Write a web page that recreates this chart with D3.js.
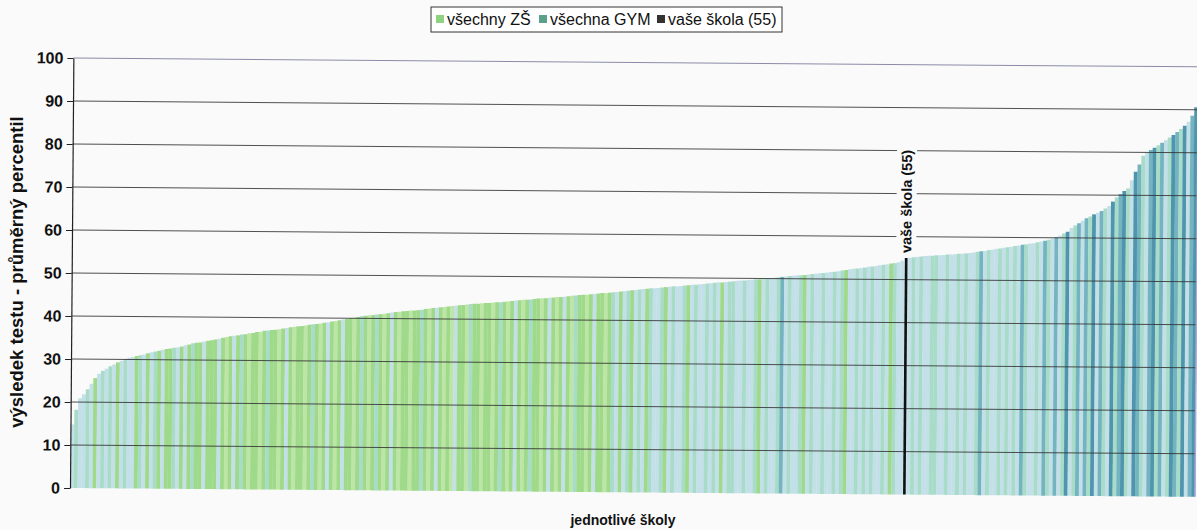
<!DOCTYPE html>
<html><head><meta charset="utf-8">
<script src="https://cdn.jsdelivr.net/npm/d3@7"></script>
<style>html,body{margin:0;padding:0;background:#fafafa;} svg{display:block;font-family:"Liberation Sans",Arial,sans-serif;}</style>
</head><body><svg id="c" width="1197" height="530"></svg>
<script>
// sorted average percentile of each school
const values = [
14.8,18.2,20.9,21.8,23.0,24.3,25.6,26.6,27.3,27.8,
28.4,28.8,29.3,29.7,30.1,30.4,30.6,30.8,31.0,31.2,
31.5,31.7,31.9,32.1,32.3,32.5,32.6,32.8,32.9,33.1,
33.4,33.6,33.9,34.0,34.1,34.3,34.5,34.6,34.8,35.0,
35.2,35.4,35.6,35.7,35.8,36.0,36.1,36.3,36.4,36.6,
36.7,36.9,37.0,37.1,37.2,37.3,37.5,37.6,37.8,37.9,
38.0,38.1,38.2,38.4,38.5,38.6,38.7,38.9,39.0,39.2,
39.3,39.5,39.7,39.8,40.0,40.1,40.3,40.5,40.6,40.7,
40.8,40.9,41.0,41.1,41.2,41.4,41.5,41.6,41.7,41.8,
41.9,41.9,42.0,42.1,42.3,42.4,42.5,42.6,42.7,42.8,
42.9,43.0,43.1,43.2,43.3,43.4,43.5,43.6,43.6,43.7,
43.8,43.8,43.9,44.0,44.0,44.1,44.2,44.3,44.4,44.5,
44.6,44.6,44.7,44.8,44.9,45.0,45.0,45.1,45.2,45.3,
45.3,45.4,45.5,45.6,45.7,45.8,45.9,45.9,46.0,46.1,
46.2,46.3,46.3,46.4,46.5,46.6,46.7,46.8,46.9,47.0,
47.1,47.2,47.3,47.4,47.5,47.5,47.6,47.7,47.8,47.9,
48.0,48.0,48.1,48.2,48.3,48.4,48.4,48.5,48.6,48.7,
48.8,48.9,49.0,49.0,49.1,49.2,49.3,49.4,49.5,49.5,
49.6,49.7,49.8,49.8,49.9,50.0,50.1,50.2,50.3,50.4,
50.5,50.6,50.7,50.8,50.8,50.9,51.0,51.1,51.2,51.3,
51.4,51.5,51.6,51.7,51.8,52.0,52.1,52.3,52.4,52.5,
52.6,52.7,52.9,53.0,53.1,53.3,53.4,53.5,53.7,53.8,
54.0,54.4,55.0,55.1,55.2,55.3,55.4,55.5,55.6,55.6,
55.7,55.7,55.8,55.9,55.9,56.0,56.1,56.1,56.2,56.3,
56.4,56.6,56.7,56.8,57.0,57.1,57.3,57.4,57.6,57.7,
57.8,58.0,58.1,58.3,58.4,58.6,58.7,58.9,59.1,59.3,
59.5,59.8,60.1,60.5,61.0,61.4,62.3,62.9,63.4,64.0,
64.6,65.0,65.5,65.9,66.3,66.9,67.5,68.5,69.5,70.3,
71.0,71.6,73.5,75.5,77.2,79.2,80.0,80.6,81.1,81.7,
82.3,82.9,83.5,84.1,84.8,85.5,86.3,87.2,88.6,90.6
];
// school type of each bar: g/h = ZŠ greens, b/m = pale shades, t/d = GYM teals, k = own school
const typeRows = [
"bmbbmbgbmb","mbgbmbbgmb","gbmgbggmbg","bgmggbgggb","ghgbgmghgg",
"hgmgghgbgh","gghgmghgbg","hgbgghgmgh","gmghgbghgg","hggmghgbgh",
"ghbgghmggh","gghgmghgbg","hgmgghgbgh","gbghmgghgb","gghgmbgbmg",
"bmbgmbbmgb","mbbmgbmbbm","bmbgbmmbbm","bbmgbmbbmt","bmbbmgbmbb",
"mbbmbmgbbm","bmbmbbmbgm","bbkbmbmbbm","mbbmbbmbmb","bmtbmbbmbm",
"bmbtmbbmbt","mbtbmdbmtb","tmdbtmbdmt","dmbdtmbtdm","tbmdtmdbtd"
];
const types = typeRows.join("").split("");
const yTicks = [0,10,20,30,40,50,60,70,80,90,100];
const legendLabels = ["všechny ZŠ","všechna GYM","vaše škola (55)"];
const legendColors = ["#8fd27f","#5aa08a","#333333"];
const ownLabel = "vaše škola (55)";
const ownValue = 55;
const yTitle = "výsledek testu - průměrný percentil";
const xTitle = "jednotlivé školy";
const colors = {g:"#9fd98a",h:"#bde5a6",b:"#c3e0e8",m:"#a8dcc8",t:"#74b3c0",d:"#4f95ad",k:"#c3e0e8"};

const svg = d3.select("#c");
svg.append("rect").attr("width",1197).attr("height",530).attr("fill","#fafafa");
const L=70,R=1195,T=58,B=488;
const x = d3.scaleBand().domain(d3.range(values.length)).range([L,R]).padding(0);
const y = d3.scaleLinear().domain([0,100]).range([B,T]);
const plot = svg.append("g").attr("transform","rotate(0.45,70,488)");

plot.selectAll("rect.bar").data(values).join("rect").attr("class","bar")
  .attr("x",(d,i)=>x(i)).attr("width",x.bandwidth()+0.25)
  .attr("y",d=>y(d)).attr("height",d=>B-y(d))
  .attr("fill",(d,i)=>colors[types[i]]||colors.b);

// gridlines
plot.selectAll("line.grid").data(yTicks.filter(t=>t>0)).join("line").attr("class","grid")
  .attr("x1",L).attr("x2",R).attr("y1",d=>y(d)).attr("y2",d=>y(d))
  .attr("stroke",d=>d===100?"#8a8aa8":"#333").attr("stroke-width",1).attr("opacity",d=>d===100?1:0.85);
plot.append("line").attr("x1",R).attr("x2",R).attr("y1",T).attr("y2",B).attr("stroke","#a8a8d8").attr("stroke-width",1.5);

// own school bar
const ownIdx = types.indexOf("k");
const cx = x(ownIdx)+x.bandwidth()/2;
plot.append("rect").attr("x",cx-1.3).attr("width",2.6).attr("y",y(ownValue)).attr("height",B-y(ownValue)).attr("fill","#111");
const lbl = plot.append("g").attr("transform",`translate(${cx+5},${y(ownValue)-5}) rotate(-90)`);
const bgR = lbl.append("rect").attr("fill","#fafafa");
const lt = lbl.append("text").attr("x",0).attr("y",0).attr("font-weight","bold").attr("font-size",14.5).attr("fill","#111").text(ownLabel);
const bb = lt.node().getBBox();
bgR.attr("x",bb.x-3).attr("y",bb.y-2).attr("width",bb.width+6).attr("height",bb.height+4);

// y axis
const ax = plot.append("g").attr("transform",`translate(${L},0)`)
  .call(d3.axisLeft(y).tickValues(yTicks).tickSize(6).tickSizeOuter(0).tickPadding(4));
ax.select(".domain").attr("stroke","#222").attr("stroke-width",1.2);
ax.selectAll(".tick line").attr("stroke","#222");
ax.selectAll(".tick text").attr("font-size",16).attr("font-weight","bold").attr("fill","#111")
  .attr("font-family","Liberation Sans, Arial, sans-serif");

// titles
svg.append("text").attr("transform","translate(23,272) rotate(-90)").attr("text-anchor","middle")
  .attr("font-weight","bold").attr("font-size",18.5).attr("fill","#111").text(yTitle);
svg.append("text").attr("x",623).attr("y",525).attr("text-anchor","middle")
  .attr("font-weight","bold").attr("font-size",14).attr("fill","#111").text(xTitle);

// legend
svg.append("rect").attr("x",431).attr("y",7).attr("width",351).attr("height",25).attr("fill","#fff").attr("stroke","#333").attr("stroke-width",1);
const legX = [436,539,657];
legendLabels.forEach((t,i)=>{
  svg.append("rect").attr("x",legX[i]).attr("y",15).attr("width",8).attr("height",8).attr("fill",legendColors[i]);
  svg.append("text").attr("x",legX[i]+11).attr("y",25).attr("font-size",16).attr("fill","#111").text(t);
});
</script></body></html>
